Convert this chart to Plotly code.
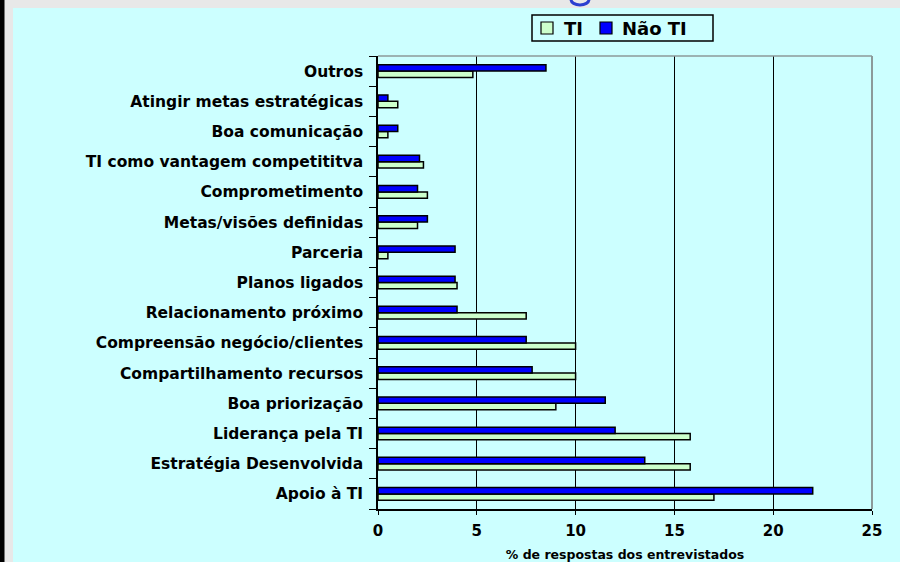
import plotly.graph_objects as go

# Categories listed bottom-to-top on the chart
categorias = [
    "Apoio à TI",
    "Estratégia Desenvolvida",
    "Liderança pela TI",
    "Boa priorização",
    "Compartilhamento recursos",
    "Compreensão negócio/clientes",
    "Relacionamento próximo",
    "Planos ligados",
    "Parceria",
    "Metas/visões definidas",
    "Comprometimento",
    "TI como vantagem competititva",
    "Boa comunicação",
    "Atingir metas estratégicas",
    "Outros",
]

valores_ti = [17.0, 15.8, 15.8, 9.0, 10.0, 10.0, 7.5, 4.0, 0.5, 2.0, 2.5, 2.3, 0.5, 1.0, 4.8]
valores_nao_ti = [22.0, 13.5, 12.0, 11.5, 7.8, 7.5, 4.0, 3.9, 3.9, 2.5, 2.0, 2.1, 1.0, 0.5, 8.5]

tick_vals_x = [0, 5, 10, 15, 20, 25]

series_nomes = ["TI", "Não TI"]
series_cores = ["#ccffcc", "#0000ff"]

W, H = 900, 562
ML, MR, MT, MB = 378, 28, 56, 53
PW, PH = W - ML - MR, H - MT - MB


def px_x(x):
    return (x - ML) / PW


def px_y(y):
    return (H - MB - y) / PH


FONT = "DejaVu Sans, Liberation Sans, Arial, sans-serif"
CYAN = "#ccffff"
GREY = "#e8e8e8"

fig = go.Figure()
for nome, valores, cor in zip(series_nomes, [valores_ti, valores_nao_ti], series_cores):
    fig.add_trace(go.Bar(
        y=categorias, x=valores, name=nome, orientation="h",
        marker=dict(color=cor, line=dict(color="black", width=1.5)),
    ))

shapes = [
    # page frame: grey band on top and left, black strip at the far left
    dict(type="rect", xref="paper", yref="paper", layer="above",
         x0=px_x(-20), x1=px_x(W + 20), y0=px_y(-20), y1=px_y(8),
         fillcolor=GREY, line=dict(width=0)),
    dict(type="rect", xref="paper", yref="paper", layer="above",
         x0=px_x(-20), x1=px_x(13), y0=px_y(-20), y1=px_y(H + 40),
         fillcolor=GREY, line=dict(width=0)),
    dict(type="rect", xref="paper", yref="paper", layer="above",
         x0=px_x(-20), x1=px_x(4.5), y0=px_y(-20), y1=px_y(H + 40),
         fillcolor="black", line=dict(width=0)),
    # small logo ring at the top
    dict(type="circle", xref="paper", yref="paper", layer="above",
         x0=px_x(571), x1=px_x(589), y0=px_y(-6), y1=px_y(5),
         fillcolor="rgba(0,0,0,0)", line=dict(color="#2a3fd0", width=3)),
    # grey plot-area border on top and right
    dict(type="line", xref="paper", yref="paper", layer="above",
         x0=0, x1=1, y0=1, y1=1, line=dict(color="#8c9a9a", width=1.5)),
    dict(type="line", xref="paper", yref="paper", layer="above",
         x0=1, x1=1, y0=0, y1=1, line=dict(color="#8c9a9a", width=2)),
    # legend frame
    dict(type="rect", xref="paper", yref="paper", layer="above",
         x0=px_x(532), x1=px_x(713), y0=px_y(15), y1=px_y(41),
         fillcolor=CYAN, line=dict(color="black", width=1.5)),
]

# legend entries: colour swatch + label
annotations = []
legenda_x = [(541, 562), (600, 620)]
for (sx, tx), nome, cor in zip(legenda_x, series_nomes, series_cores):
    shapes.append(dict(type="rect", xref="paper", yref="paper", layer="above",
                       x0=px_x(sx), x1=px_x(sx + 12), y0=px_y(22), y1=px_y(34),
                       fillcolor=cor, line=dict(color="black", width=1.2)))
    annotations.append(dict(xref="paper", yref="paper", x=px_x(tx), y=px_y(28.5),
                            xanchor="left", yanchor="middle", showarrow=False,
                            text=nome,
                            font=dict(family=FONT, size=18, weight="bold", color="black")))

fig.update_layout(
    width=W, height=H,
    margin=dict(l=ML, r=MR, t=MT, b=MB, autoexpand=False),
    paper_bgcolor=CYAN,
    plot_bgcolor=CYAN,
    barmode="group",
    bargap=0.58,
    bargroupgap=0.0,
    font=dict(family=FONT, color="black"),
    shapes=shapes,
    annotations=annotations,
    showlegend=False,
    xaxis=dict(
        range=[0, 25],
        tickvals=tick_vals_x,
        automargin=False,
        showgrid=True, gridcolor="black", gridwidth=1.2,
        showline=True, linecolor="black", linewidth=1.5,
        ticks="outside", ticklen=4, tickcolor="black",
        tickfont=dict(family=FONT, size=15, weight="bold"),
        ticklabelstandoff=3,
        zeroline=False,
        title=dict(text="% de respostas dos entrevistados",
                   font=dict(family=FONT, size=12.5, weight="bold")),
    ),
    yaxis=dict(
        type="category",
        categoryorder="array", categoryarray=categorias,
        automargin=False,
        showgrid=False,
        showline=True, linecolor="black", linewidth=1.5,
        ticks="outside", ticklen=7, tickcolor="black",
        tickson="boundaries",
        tickfont=dict(family=FONT, size=15.5, weight="bold"),
        ticklabelstandoff=10,
    ),
)

fig.write_html("out.html")
